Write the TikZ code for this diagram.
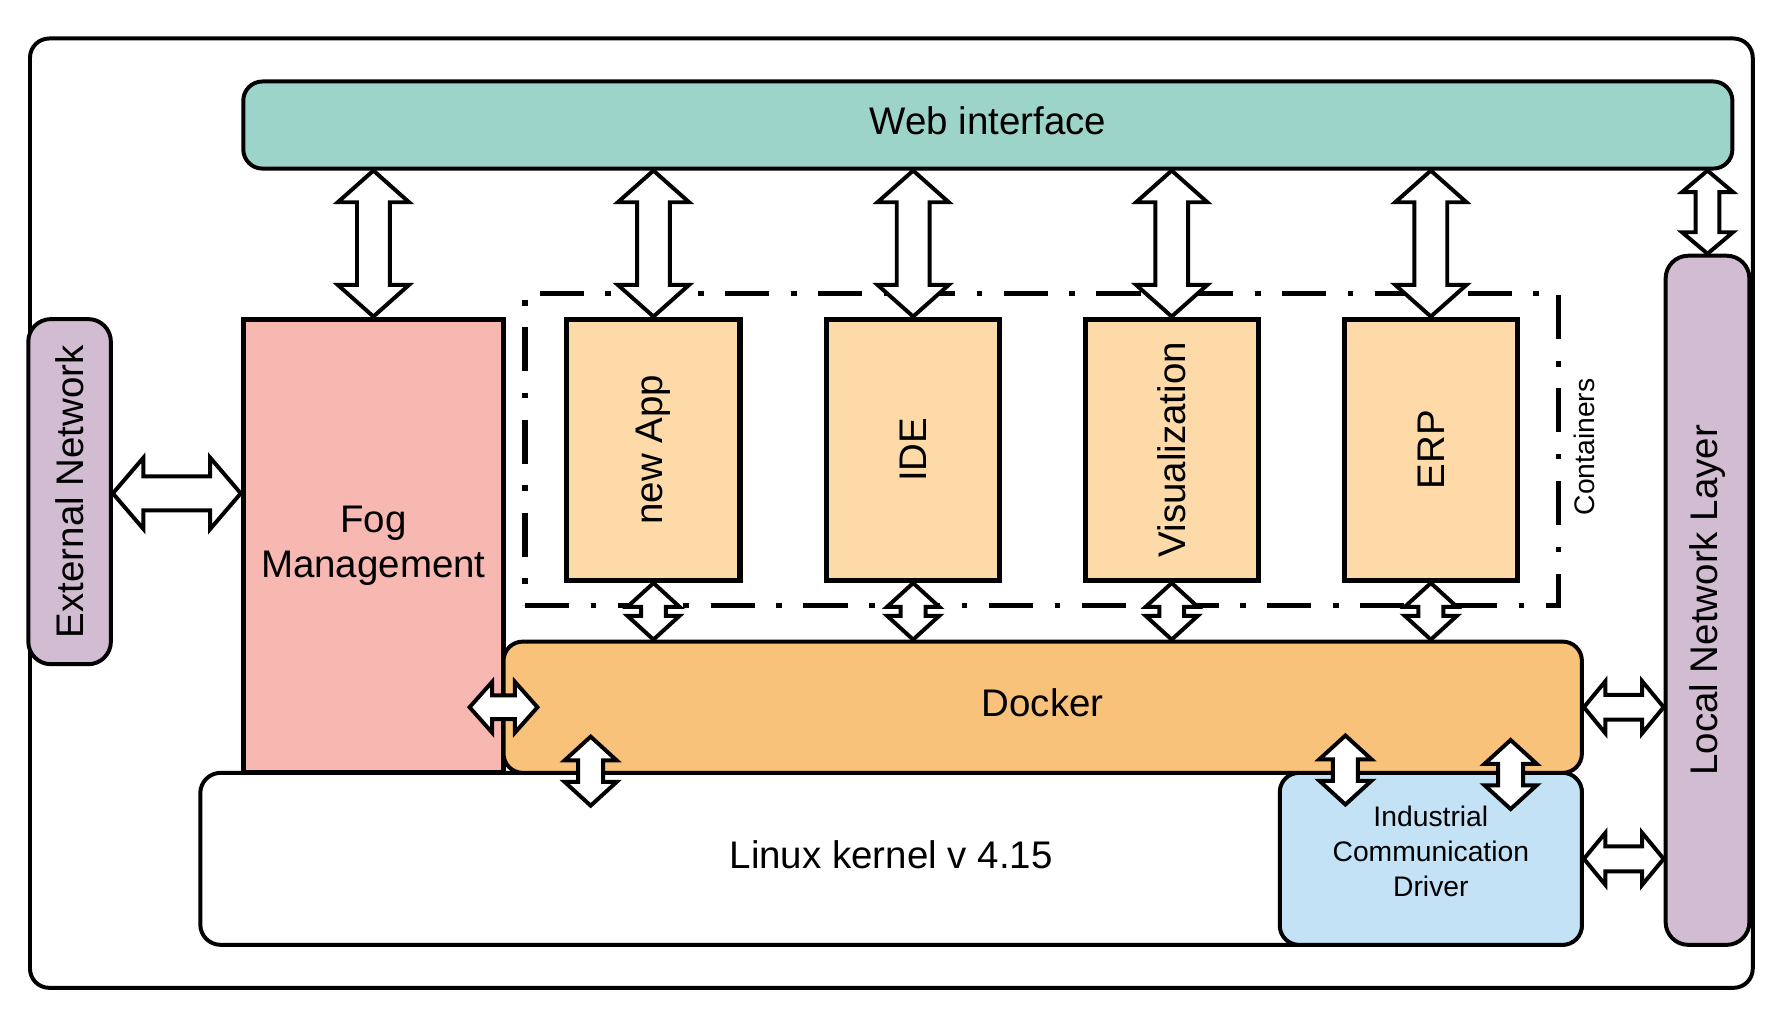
\documentclass[tikz,border=0pt]{standalone}
\usepackage{fontspec}
\setmainfont{Liberation Sans}
\usepackage{graphicx}
\usetikzlibrary{calc}
\definecolor{webc}{RGB}{157,212,201}
\definecolor{fogc}{RGB}{248,184,178}
\definecolor{netc}{RGB}{209,188,210}
\definecolor{appc}{RGB}{253,218,168}
\definecolor{dockc}{RGB}{249,194,122}
\definecolor{indc}{RGB}{195,226,245}
\newcommand\uptext[1]{\raisebox{4pt}[\height][\depth]{#1}}
\newcommand\vdarr[5]{%
  \draw[blockarrow] let \p1=(#1), \p2=(#2) in
  (\x1,\y1) -- (\x1+#3pt,\y1-#5pt) -- (\x1+#4pt,\y1-#5pt) -- (\x1+#4pt,\y2+#5pt)
  -- (\x1+#3pt,\y2+#5pt) -- (\x1,\y2) -- (\x1-#3pt,\y2+#5pt) -- (\x1-#4pt,\y2+#5pt)
  -- (\x1-#4pt,\y1-#5pt) -- (\x1-#3pt,\y1-#5pt) -- cycle;}
\newcommand\hdarr[5]{%
  \draw[blockarrow] let \p1=(#1), \p2=(#2) in
  (\x1,\y1) -- (\x1+#5pt,\y1+#3pt) -- (\x1+#5pt,\y1+#4pt) -- (\x2-#5pt,\y1+#4pt)
  -- (\x2-#5pt,\y1+#3pt) -- (\x2,\y1) -- (\x2-#5pt,\y1-#3pt) -- (\x2-#5pt,\y1-#4pt)
  -- (\x1+#5pt,\y1-#4pt) -- (\x1+#5pt,\y1-#3pt) -- cycle;}
\begin{document}
\begin{tikzpicture}[x=1pt,y=-1pt,
  box/.style={draw=black, line width=3.5pt, inner sep=0pt, align=center,
    font=\fontsize{34}{40}\selectfont},
  appbox/.style={box, fill=appc, line width=4.5pt, minimum width=153pt, minimum height=231pt},
  blockarrow/.style={draw=black, fill=white, line width=3.5pt, line join=miter}]
\useasboundingbox (0,0) rectangle (1566,912);
% outer frame
\node[box, rounded corners=17pt, minimum width=1522.5pt, minimum height=839pt] (outer) at (787.75,453.5) {};
% web interface
\node[box, fill=webc, rounded corners=17pt, minimum width=1316pt, minimum height=77pt] (web) at (873,110.5) {\uptext{Web interface}};
% external network
\node[box, fill=netc, rounded corners=20pt, minimum width=73pt, minimum height=305pt] (ext) at (61.5,434.5) {\rotatebox{90}{External Network}};
% local network layer
\node[box, fill=netc, rounded corners=20pt, minimum width=74pt, minimum height=609pt] (local) at (1509,530.5) {\rotatebox{90}{Local Network Layer}};
% containers
\node[draw=black, line width=4.5pt, dash pattern=on 39pt off 19pt on 5pt off 19pt, minimum width=913pt, minimum height=276pt, inner sep=0pt] (cont) at (920.5,397) {};
\node[inner sep=0pt, font=\fontsize{25}{30}\selectfont] (contlbl) at (1400,395) {\rotatebox{90}{Containers}};
% apps
\node[appbox] (app1) at (577.5,397.5) {\rotatebox{90}{new App}};
\node[appbox] (app2) at (807,397.5) {\rotatebox{90}{IDE}};
\node[appbox] (app3) at (1035.5,397.5) {\rotatebox{90}{Visualization}};
\node[appbox] (app4) at (1264.5,397.5) {\rotatebox{90}{ERP}};
% linux kernel
\node[box, fill=white, rounded corners=18pt, minimum width=1221pt, minimum height=152pt] (linux) at (787.5,759) {\uptext{Linux kernel v 4.15}};
% industrial driver
\node[box, fill=indc, rounded corners=17pt, minimum width=267pt, minimum height=152pt,
  font=\fontsize{25}{31}\selectfont] (ind) at (1264.5,759)
  {\uptext{\begin{tabular}{@{}c@{}}Industrial\\Communication\\Driver\end{tabular}}};
% fog management
\node[box, fill=fogc, line width=4.5pt, minimum width=230pt, minimum height=401pt] (fog) at (330,482.5) {Fog\\Management};
% docker
\node[box, fill=dockc, rounded corners=17pt, minimum width=953pt, minimum height=116pt] (docker) at (921.5,625) {\uptext{Docker}};
% free arrow ends
\coordinate (fdL) at (415,625);
\coordinate (fdR) at (475,625);
\coordinate (dlT) at (522,651);
\coordinate (dlB) at (522,712);
\coordinate (di1T) at (1189,650);
\coordinate (di1B) at (1189,711);
\coordinate (di2T) at (1335,654);
\coordinate (di2B) at (1335,715);
% big arrows from web interface
\vdarr{fog.north |- web.south}{fog.north}{31.5}{14.5}{28}
\vdarr{app1.north |- web.south}{app1.north}{31.5}{14.5}{28}
\vdarr{app2.north |- web.south}{app2.north}{31.5}{14.5}{28}
\vdarr{app3.north |- web.south}{app3.north}{31.5}{14.5}{28}
\vdarr{app4.north |- web.south}{app4.north}{31.5}{14.5}{28}
\vdarr{local.north |- web.south}{local.north}{22.5}{10.5}{19}
% external - fog
\hdarr{ext.east |- 0,436}{fog.west |- 0,436}{31.5}{15}{27}
% apps - docker
\vdarr{app1.south}{app1.south |- docker.north}{23}{11}{21}
\vdarr{app2.south}{app2.south |- docker.north}{23}{11}{21}
\vdarr{app3.south}{app3.south |- docker.north}{23}{11}{21}
\vdarr{app4.south}{app4.south |- docker.north}{23}{11}{21}
% fog - docker
\hdarr{fdL}{fdR}{22.5}{10.5}{20}
% docker - linux / industrial
\vdarr{dlT}{dlB}{23}{11}{21}
\vdarr{di1T}{di1B}{23}{11}{21}
\vdarr{di2T}{di2B}{23}{11}{21}
% right side to local network
\hdarr{docker.east}{docker.east -| local.west}{23}{11}{19}
\hdarr{ind.east}{ind.east -| local.west}{23}{11}{19}
\end{tikzpicture}
\end{document}
